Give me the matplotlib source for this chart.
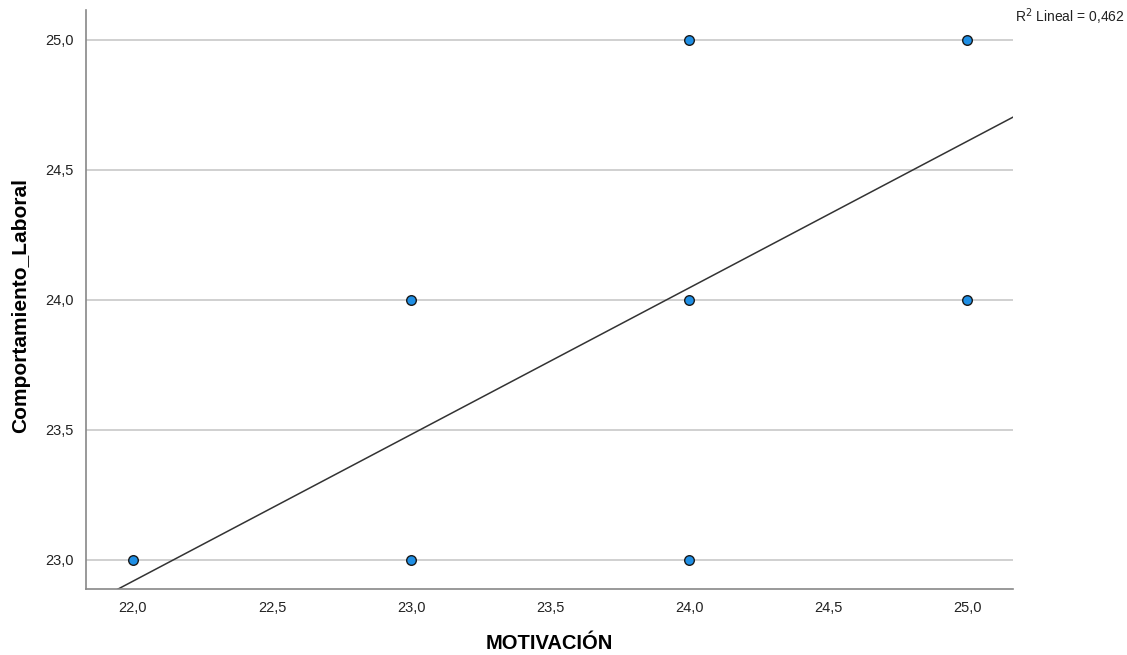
import numpy as np
import matplotlib.pyplot as plt
from matplotlib.ticker import FuncFormatter

# Datos
motivacion = [22, 23, 23, 24, 24, 24, 25, 25]
comportamiento = [23, 24, 23, 25, 24, 23, 25, 24]

# Recta de ajuste
pendiente = 0.564
intercepto = 10.51
r2 = 0.462

xticks = [22.0, 22.5, 23.0, 23.5, 24.0, 24.5, 25.0]
yticks = [23.0, 23.5, 24.0, 24.5, 25.0]
xlim = (21.831, 25.165)
ylim = (22.888, 25.115)

plt.rcParams['font.family'] = ['Liberation Sans', 'DejaVu Sans']

fig = plt.figure(figsize=(11.27, 6.55), dpi=100)
ax = fig.add_axes([0.0763, 0.1008, 0.8226, 0.8839])

ax.set_xlim(xlim)
ax.set_ylim(ylim)

# lineas de la grilla horizontal
for yv in yticks:
    ax.axhline(yv, color='#c8c8c8', linewidth=1.2, zorder=1)

xs = np.array(xlim)
ax.plot(xs, intercepto + pendiente * xs, color='#333333', linewidth=1.1, zorder=2)

ax.scatter(motivacion, comportamiento, s=48, facecolor='#1f8fe5', edgecolor='#1a1a1a',
           linewidth=1.0, zorder=3, clip_on=False)

fmt = FuncFormatter(lambda v, p: f"{v:.1f}".replace('.', ','))
ax.set_xticks(xticks)
ax.set_yticks(yticks)
ax.xaxis.set_major_formatter(fmt)
ax.yaxis.set_major_formatter(fmt)
ax.tick_params(length=0, labelsize=10.5, colors='#222222', pad=9)

for s in ['top', 'right']:
    ax.spines[s].set_visible(False)
for s in ['left', 'bottom']:
    ax.spines[s].set_color('#888888')
    ax.spines[s].set_linewidth(1.2)

ax.set_xlabel('MOTIVACIÓN', fontsize=14.5, fontweight='bold', labelpad=13)
ax.set_ylabel('Comportamiento_Laboral', fontsize=15, fontweight='bold')
ax.yaxis.set_label_coords(-0.060, 0.49)

fig.text(0.9005, 0.967, f"R$^2$ Lineal = {r2:.3f}".replace('.', ','), fontsize=10, color='#222222')

fig.savefig('out.png', dpi=100)
